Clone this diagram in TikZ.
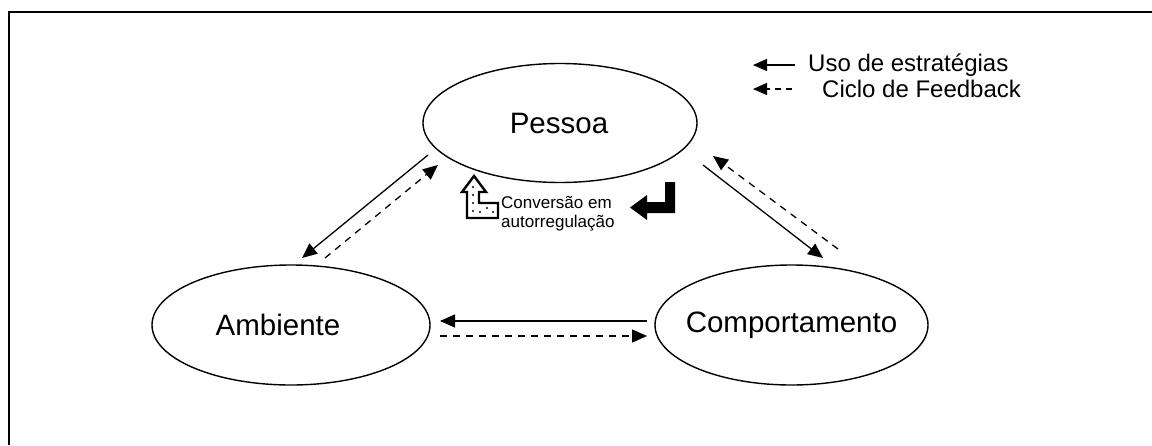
\documentclass[tikz,border=0pt]{standalone}
\usepackage{fontspec}
\setmainfont{Liberation Sans}
\usetikzlibrary{shapes.geometric,arrows.meta}
\tikzset{
  ell/.style={draw, ellipse, line width=1.4pt, inner sep=0pt},
  elltext/.style={inner sep=0pt, font=\fontsize{29.5}{34}\selectfont},
  solidarrow/.style={line width=1.3pt, -{Triangle[length=15pt,width=13pt]}},
  dasharrow/.style={line width=1.3pt, dash pattern=on 7pt off 6pt, -{Triangle[length=15pt,width=13pt]}},
  legdash/.style={line width=1.3pt, dash pattern=on 6pt off 5pt, -{Triangle[length=14pt,width=12pt]}},
  legsolid/.style={line width=1.3pt, -{Triangle[length=14pt,width=12pt]}},
  legtext/.style={anchor=west, inner sep=0pt, font=\fontsize{24}{28}\selectfont},
}
\begin{document}
\begin{tikzpicture}[x=1pt,y=-1pt]
\useasboundingbox (0,0) rectangle (1152,445);
\draw[line width=2.5pt] (9,445) -- (9,12) -- (1152,12);

\node[ell, minimum width=274pt, minimum height=119pt] (P) at (560,123) {};
\node[ell, minimum width=278pt, minimum height=120pt] (A) at (291,325) {};
\node[ell, minimum width=273pt, minimum height=120pt] (C) at (791.5,325) {};
\node[elltext] (Pt) at ([xshift=-1pt]P.center) {Pessoa};
\node[elltext] (At) at ([xshift=-13pt]A.center) {Ambiente};
\node[elltext] (Ct) at (C.center) {Comportamento};

% horizontal
\draw[solidarrow] ([shift={(-144.5,-4)}]C.center) -- ([shift={(149,-4)}]A.center);
\draw[dasharrow] ([shift={(149,11)}]A.center) -- ([shift={(-144.5,11)}]C.center);
% left diagonal
\draw[solidarrow] ([shift={(-132,32)}]P.center) -- ([shift={(11,-67)}]A.center);
\draw[dasharrow] ([shift={(34,-67)}]A.center) -- ([shift={(-122,42)}]P.center);
% right diagonal
\draw[solidarrow] ([shift={(143,42)}]P.center) -- ([shift={(31.5,-67)}]C.center);
\draw[dasharrow] ([shift={(46.5,-76)}]C.center) -- ([shift={(153,33)}]P.center);

% legend
\node[legtext] (U) at (808,65) {Uso de estratégias};
\node[legtext] (F) at (822,89) {Ciclo de Feedback};
\coordinate (U1) at (753,65);
\coordinate (F1) at (753,89);
\draw[legsolid] ([xshift=-13pt]U.west) -- (U1);
\draw[legdash] ([xshift=-30pt]F.west) -- (F1);

% conversion label
\node[anchor=west, inner sep=0pt, align=left, font=\fontsize{17}{19}\selectfont] (T) at (501,214) {Conversão em\\autorregulação};

% hollow dotted bent arrow
\draw[line width=2.4pt, fill=white, line join=miter]
  (467,218) -- (498,218) -- (498,203) -- (479,203) -- (479,192) -- (486,192)
  -- (474,176) -- (462,192) -- (467,192) -- cycle;
\foreach \p in {(473,187),(473,195),(473,203),(473,211),(480,212),(487,208),(493,212)}
  \fill \p circle (1.1pt);

% solid black bent arrow
\fill (675,182) -- (675,213) -- (647,213) -- (647,220) -- (630,207.5) -- (647,195)
  -- (647,202) -- (665,202) -- (665,182) -- cycle;
\end{tikzpicture}
\end{document}
